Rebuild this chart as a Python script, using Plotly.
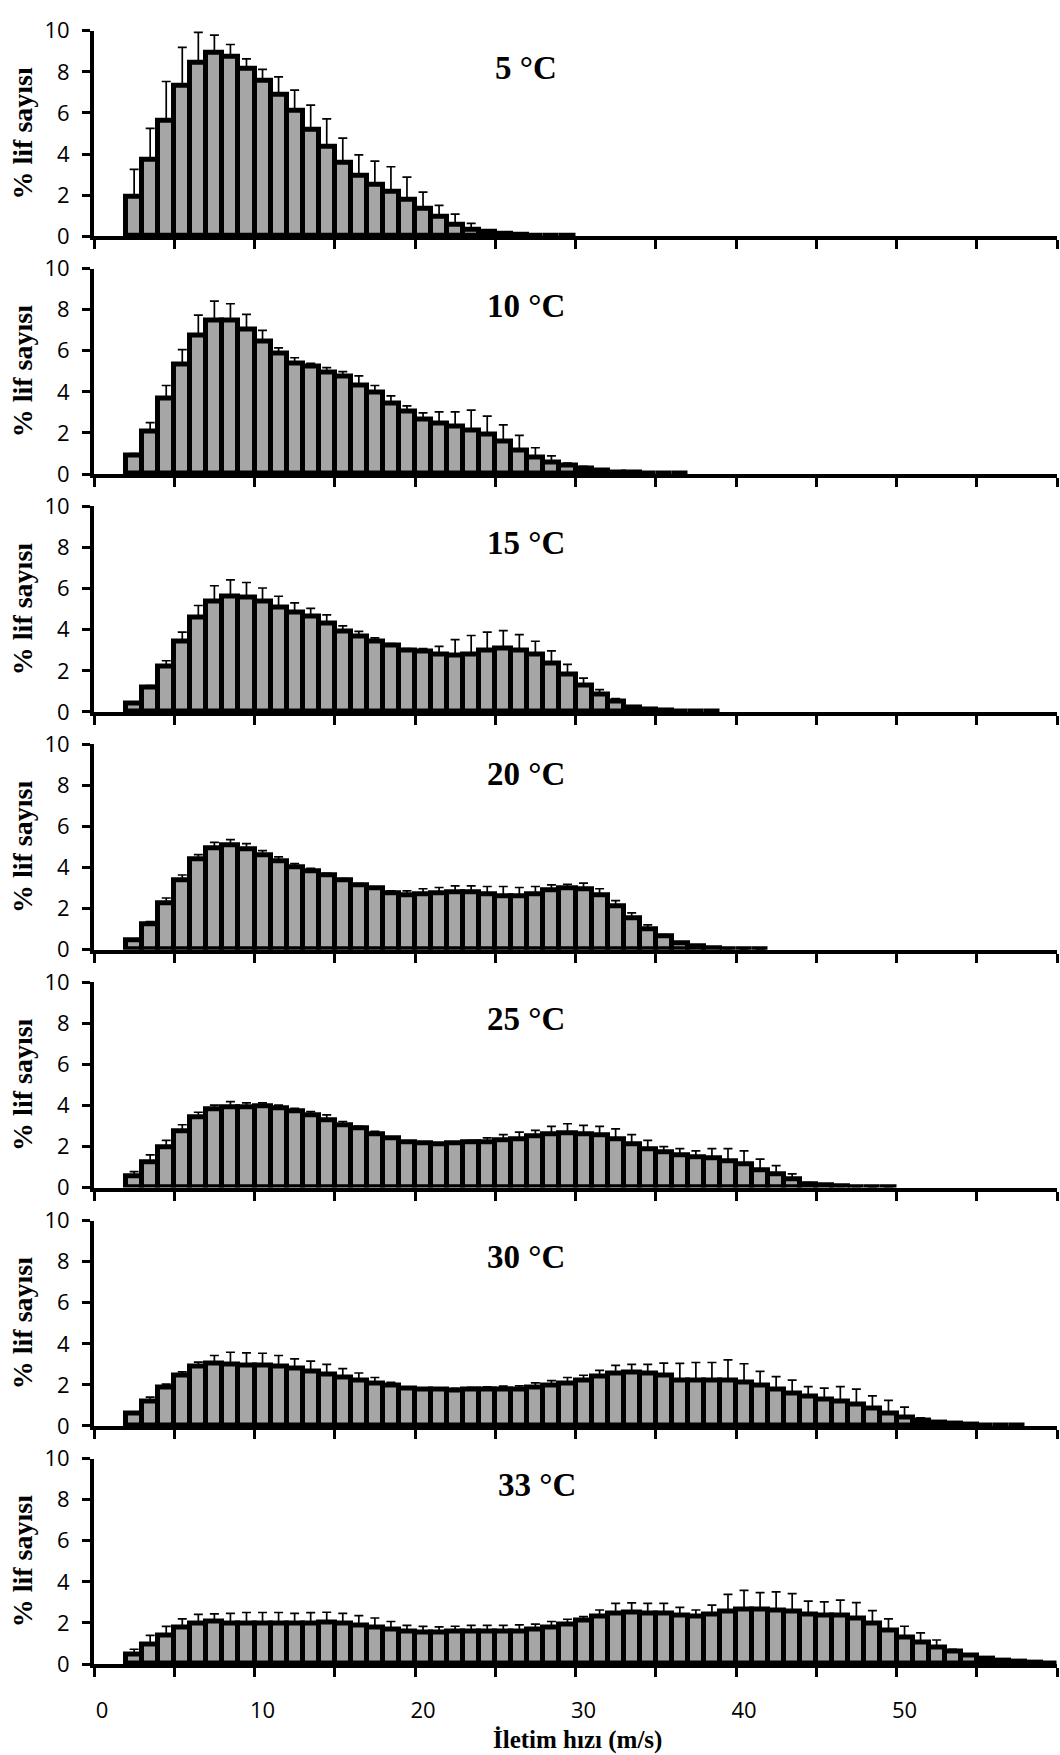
import plotly.graph_objects as go

# ---------------- data ----------------
speed = list(range(60))  # conduction velocity bins (m/s)
temps = ["5 °C", "10 °C", "15 °C", "20 °C", "25 °C", "30 °C", "33 °C"]
x_tick_vals = [0, 10, 20, 30, 40, 50]
x_tick_text = ["0", "10", "20", "30", "40", "50"]
y_tick_vals = [0, 2, 4, 6, 8, 10]

pct_5 = [0, 0, 1.91, 3.73, 5.61, 7.32, 8.45, 8.93, 8.74, 8.17,
         7.56, 6.89, 6.11, 5.17, 4.37, 3.59, 2.93, 2.50, 2.18, 1.79,
         1.34, 0.94, 0.57, 0.33, 0.22, 0.12, 0.07, 0.04, 0.02, 0.01,
         0, 0, 0, 0, 0, 0, 0, 0, 0, 0,
         0, 0, 0, 0, 0, 0, 0, 0, 0, 0,
         0, 0, 0, 0, 0, 0, 0, 0, 0, 0]
sd_5 = [0, 0, 1.34, 1.52, 1.92, 1.87, 1.47, 0.86, 0.59, 0.46,
        0.56, 0.86, 1.00, 1.21, 1.34, 1.18, 1.03, 1.15, 1.20, 1.08,
        0.80, 0.56, 0.50, 0.29, 0.08, 0.03, 0, 0, 0, 0,
        0, 0, 0, 0, 0, 0, 0, 0, 0, 0,
        0, 0, 0, 0, 0, 0, 0, 0, 0, 0,
        0, 0, 0, 0, 0, 0, 0, 0, 0, 0]

pct_10 = [0, 0, 0.88, 2.07, 3.67, 5.31, 6.73, 7.46, 7.46, 7.05,
          6.46, 5.85, 5.39, 5.22, 4.94, 4.74, 4.29, 3.96, 3.43, 3.03,
          2.63, 2.44, 2.31, 2.12, 1.91, 1.56, 1.16, 0.80, 0.56, 0.40,
          0.27, 0.16, 0.08, 0.05, 0.03, 0.02, 0.01, 0, 0, 0,
          0, 0, 0, 0, 0, 0, 0, 0, 0, 0,
          0, 0, 0, 0, 0, 0, 0, 0, 0, 0]
sd_10 = [0, 0, 0.11, 0.43, 0.64, 0.75, 1.01, 0.96, 0.83, 0.72,
         0.53, 0.29, 0.27, 0.17, 0.24, 0.25, 0.49, 0.35, 0.37, 0.29,
         0.35, 0.59, 0.72, 0.99, 0.91, 0.83, 0.72, 0.48, 0.32, 0.13,
         0.10, 0.05, 0, 0, 0, 0, 0, 0, 0, 0,
         0, 0, 0, 0, 0, 0, 0, 0, 0, 0,
         0, 0, 0, 0, 0, 0, 0, 0, 0, 0]

pct_15 = [0, 0, 0.40, 1.21, 2.23, 3.44, 4.59, 5.36, 5.63, 5.55,
          5.36, 5.07, 4.85, 4.63, 4.32, 3.92, 3.68, 3.44, 3.24, 3.00,
          2.92, 2.79, 2.73, 2.79, 3.00, 3.08, 3.00, 2.79, 2.36, 1.83,
          1.29, 0.85, 0.49, 0.24, 0.13, 0.07, 0.04, 0.02, 0.01, 0,
          0, 0, 0, 0, 0, 0, 0, 0, 0, 0,
          0, 0, 0, 0, 0, 0, 0, 0, 0, 0]
sd_15 = [0, 0, 0.05, 0.07, 0.26, 0.44, 0.59, 0.78, 0.80, 0.75,
         0.67, 0.56, 0.46, 0.41, 0.40, 0.27, 0.24, 0.16, 0.08, 0.08,
         0.16, 0.40, 0.79, 0.93, 0.88, 0.88, 0.76, 0.65, 0.61, 0.48,
         0.35, 0.23, 0.16, 0.05, 0, 0, 0, 0, 0, 0,
         0, 0, 0, 0, 0, 0, 0, 0, 0, 0,
         0, 0, 0, 0, 0, 0, 0, 0, 0, 0]

pct_20 = [0, 0, 0.45, 1.24, 2.28, 3.40, 4.39, 4.96, 5.10, 4.90,
          4.62, 4.31, 4.03, 3.83, 3.64, 3.40, 3.16, 2.97, 2.76, 2.63,
          2.68, 2.73, 2.79, 2.81, 2.71, 2.60, 2.60, 2.71, 2.87, 2.97,
          2.92, 2.63, 2.12, 1.53, 1.00, 0.64, 0.29, 0.16, 0.08, 0.04,
          0.02, 0.01, 0, 0, 0, 0, 0, 0, 0, 0,
          0, 0, 0, 0, 0, 0, 0, 0, 0, 0]
sd_20 = [0, 0, 0.08, 0.13, 0.24, 0.24, 0.24, 0.27, 0.26, 0.27,
         0.21, 0.21, 0.16, 0.13, 0.08, 0.06, 0.06, 0.08, 0.11, 0.24,
         0.29, 0.30, 0.32, 0.30, 0.37, 0.48, 0.43, 0.37, 0.29, 0.22,
         0.32, 0.34, 0.27, 0.27, 0.21, 0.10, 0.03, 0, 0, 0,
         0, 0, 0, 0, 0, 0, 0, 0, 0, 0,
         0, 0, 0, 0, 0, 0, 0, 0, 0, 0]

pct_25 = [0, 0, 0.54, 1.23, 1.98, 2.74, 3.41, 3.81, 3.91, 3.91,
          3.94, 3.86, 3.70, 3.54, 3.30, 3.06, 2.87, 2.62, 2.39, 2.19,
          2.14, 2.11, 2.14, 2.19, 2.23, 2.30, 2.38, 2.50, 2.58, 2.63,
          2.62, 2.54, 2.34, 2.11, 1.87, 1.71, 1.59, 1.50, 1.42, 1.31,
          1.12, 0.86, 0.64, 0.40, 0.19, 0.10, 0.05, 0.03, 0.02, 0.01,
          0, 0, 0, 0, 0, 0, 0, 0, 0, 0]
sd_25 = [0, 0, 0.24, 0.36, 0.32, 0.32, 0.26, 0.21, 0.28, 0.22,
         0.19, 0.16, 0.16, 0.16, 0.24, 0.16, 0.11, 0.12, 0.05, 0.03,
         0.03, 0.03, 0.08, 0.11, 0.19, 0.28, 0.32, 0.29, 0.40, 0.48,
         0.41, 0.44, 0.52, 0.47, 0.43, 0.29, 0.31, 0.29, 0.48, 0.59,
         0.67, 0.53, 0.43, 0.27, 0.05, 0, 0, 0, 0, 0,
         0, 0, 0, 0, 0, 0, 0, 0, 0, 0]

pct_30 = [0, 0, 0.59, 1.20, 1.88, 2.47, 2.87, 3.03, 3.00, 2.95,
          2.95, 2.87, 2.79, 2.63, 2.52, 2.36, 2.23, 2.07, 1.95, 1.83,
          1.79, 1.75, 1.72, 1.75, 1.75, 1.75, 1.79, 1.88, 1.95, 2.07,
          2.23, 2.42, 2.55, 2.58, 2.55, 2.47, 2.23, 2.20, 2.20, 2.20,
          2.11, 1.96, 1.79, 1.59, 1.44, 1.28, 1.20, 1.04, 0.83, 0.61,
          0.43, 0.27, 0.16, 0.10, 0.05, 0.03, 0.02, 0.01, 0, 0]
sd_30 = [0, 0, 0.08, 0.20, 0.16, 0.16, 0.24, 0.40, 0.59, 0.61,
         0.59, 0.56, 0.48, 0.53, 0.48, 0.43, 0.35, 0.29, 0.17, 0.08,
         0.04, 0.08, 0.11, 0.13, 0.16, 0.19, 0.16, 0.22, 0.26, 0.29,
         0.24, 0.29, 0.40, 0.42, 0.45, 0.59, 0.82, 0.89, 0.89, 1.02,
         0.92, 0.70, 0.61, 0.64, 0.48, 0.56, 0.72, 0.75, 0.64, 0.64,
         0.49, 0.13, 0, 0, 0, 0, 0, 0, 0, 0]

pct_33 = [0, 0, 0.48, 0.96, 1.36, 1.79, 1.99, 2.07, 1.99, 1.95,
          1.95, 1.95, 1.96, 1.99, 2.03, 1.96, 1.88, 1.79, 1.67, 1.58,
          1.55, 1.55, 1.56, 1.59, 1.59, 1.59, 1.59, 1.67, 1.75, 1.91,
          2.10, 2.31, 2.47, 2.52, 2.47, 2.47, 2.36, 2.31, 2.39, 2.55,
          2.63, 2.63, 2.60, 2.55, 2.42, 2.36, 2.36, 2.23, 1.95, 1.63,
          1.31, 1.04, 0.80, 0.61, 0.40, 0.27, 0.19, 0.11, 0.05, 0.02]
sd_33 = [0, 0, 0.24, 0.44, 0.47, 0.41, 0.43, 0.37, 0.48, 0.56,
         0.56, 0.56, 0.51, 0.51, 0.49, 0.51, 0.48, 0.45, 0.40, 0.30,
         0.28, 0.26, 0.28, 0.29, 0.29, 0.29, 0.32, 0.27, 0.32, 0.27,
         0.21, 0.32, 0.48, 0.46, 0.48, 0.48, 0.40, 0.32, 0.48, 0.84,
         0.96, 0.85, 0.91, 0.88, 0.64, 0.67, 0.75, 0.76, 0.65, 0.57,
         0.53, 0.48, 0.37, 0.11, 0.08, 0, 0, 0, 0, 0]

series_pct = [pct_5, pct_10, pct_15, pct_20, pct_25, pct_30, pct_33]
series_sd = [sd_5, sd_10, sd_15, sd_20, sd_25, sd_30, sd_33]

# ---------------- layout geometry (pixels) ----------------
W, H = 1060, 1755
ML, MR = 94, 3
PW = W - ML - MR
axis_px = [224, 466, 708, 950, 1192, 1434.5, 1676.7]   # y of the zero line
span_px = 209                                            # height of 0..10
title_rise = [171, 171, 172, 179, 172, 172, 182]
title_x_px = [526, 526, 526, 526, 526, 526, 537]

def px_x(p):
    return (p - ML) / PW

def px_y(p):
    return 1 - p / H

BAR_FILL = "#a6a6a6"
TICK_FONT = dict(family="Open Sans, Noto Sans, sans-serif", size=22, color="black")
SERIF = "Liberation Serif, Times New Roman, serif"

fig = go.Figure()
n = len(temps)
minor_vals = [-0.5 + 5 * j for j in range(13)]

for i in range(n):
    suf = "" if i == 0 else str(i + 1)
    vals = series_pct[i]
    errs = series_sd[i]
    fig.add_trace(go.Bar(
        x=speed, y=[v if v > 0 else None for v in vals],
        xaxis="x" + suf, yaxis="y" + suf,
        marker=dict(color=BAR_FILL, line=dict(color="black", width=5)),
        error_y=dict(type="data", symmetric=False,
                     array=[e if e > 0 else None for e in errs],
                     arrayminus=[0 if e > 0 else None for e in errs],
                     color="black", thickness=1.7, width=4.5),
        showlegend=False, hoverinfo="skip",
    ))
    y0 = axis_px[i]
    dom = [px_y(y0), px_y(y0 - span_px)]
    last = (i == n - 1)
    fig.layout["xaxis" + suf] = dict(
        domain=[0, 1], anchor="y" + suf, range=[-0.5, 59.5],
        showline=True, linewidth=4, linecolor="black",
        showgrid=False, zeroline=False,
        tickmode="array", tickvals=x_tick_vals, ticktext=x_tick_text,
        ticks="", showticklabels=last, tickfont=TICK_FONT,
        ticklabelstandoff=24,
        minor=dict(tickmode="array", tickvals=minor_vals, ticks="outside",
                   ticklen=9, tickwidth=3, tickcolor="black", showgrid=False),
        fixedrange=True,
    )
    fig.layout["yaxis" + suf] = dict(
        domain=dom, anchor="x" + suf, range=[0, 10],
        showline=True, linewidth=4, linecolor="black",
        showgrid=False, zeroline=False,
        tickmode="array", tickvals=y_tick_vals,
        ticks="outside", ticklen=8, tickwidth=3, tickcolor="black",
        tickfont=TICK_FONT, ticklabelstandoff=8,
        fixedrange=True,
    )
    # panel temperature label
    fig.add_annotation(text="<b>" + temps[i] + "</b>", xref="paper", yref="paper",
                       x=px_x(title_x_px[i]), y=px_y(y0 - title_rise[i]),
                       xanchor="center", yanchor="middle", showarrow=False,
                       font=dict(family=SERIF, size=33, color="black"))
    # y-axis title
    fig.add_annotation(text="<b>% lif sayısı</b>", xref="paper", yref="paper",
                       x=px_x(22.5), y=px_y(y0 - 104), textangle=-90,
                       xanchor="center", yanchor="middle", showarrow=False,
                       font=dict(family=SERIF, size=28, color="black"))

fig.add_annotation(text="<b>İletim hızı (m/s)</b>", xref="paper", yref="paper",
                   x=px_x(577), y=px_y(1754), xanchor="center", yanchor="middle",
                   showarrow=False, font=dict(family=SERIF, size=25, color="black"))

fig.update_layout(
    width=W, height=H,
    margin=dict(l=ML, r=MR, t=0, b=0),
    paper_bgcolor="white", plot_bgcolor="white",
    bargap=0,
)

fig.write_html("out.html")
